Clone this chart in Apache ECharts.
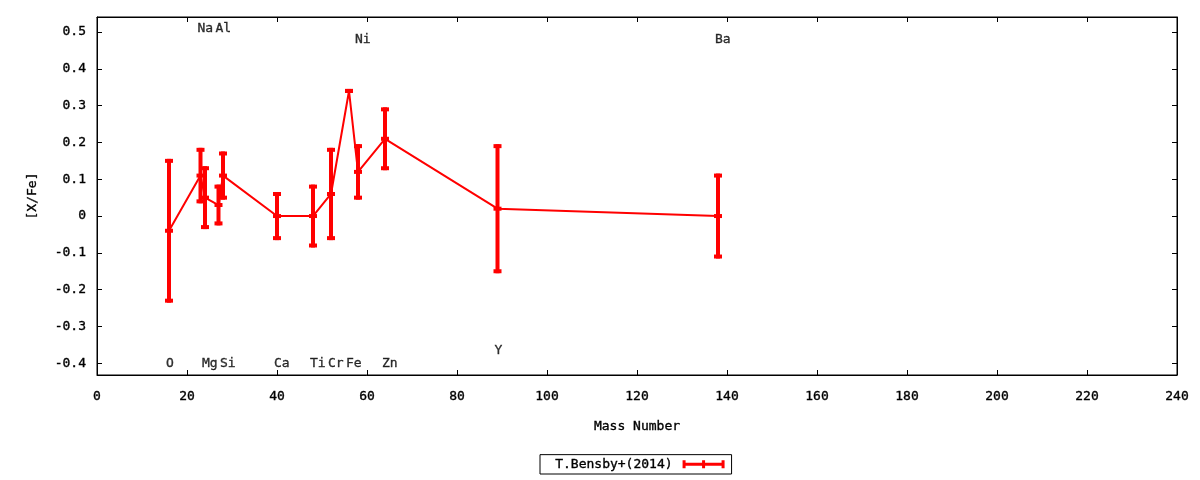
<!DOCTYPE html>
<html>
<head>
<meta charset="utf-8">
<script src="https://cdn.jsdelivr.net/npm/echarts@6/dist/echarts.min.js"></script>
<style>html,body{margin:0;padding:0;background:#fff}#c{width:1200px;height:480px}</style>
</head>
<body>
<div id="c"></div>
<script>
// Data
const seriesName = 'T.Bensby+(2014)';
const massNumber = [16, 23, 24, 27, 28, 40, 48, 52, 56, 58, 64, 89, 138];
const xFe        = [-0.04, 0.11, 0.05, 0.03, 0.11, 0.00, 0.00, 0.06, 0.34, 0.12, 0.21, 0.02, 0.00];
const xFeLow     = [-0.23, 0.04, -0.03, -0.02, 0.05, -0.06, -0.08, -0.06, 0.34, 0.05, 0.13, -0.15, -0.11];
const xFeHigh    = [0.15, 0.18, 0.13, 0.08, 0.17, 0.06, 0.08, 0.18, 0.34, 0.19, 0.29, 0.19, 0.11];

const elementNames = ['O', 'Na', 'Mg', 'Al', 'Si', 'Ca', 'Ti', 'Cr', 'Fe', 'Ni', 'Zn', 'Y', 'Ba'];
const elementMass  = [16, 23, 24, 27, 28, 40, 48, 52, 56, 58, 64, 89, 138];
const elementLabelY = [-0.4, 0.51, -0.4, 0.51, -0.4, -0.4, -0.4, -0.4, -0.4, 0.48, -0.4, -0.365, 0.48];

const xTicks = [0, 20, 40, 60, 80, 100, 120, 140, 160, 180, 200, 220, 240];
const yTicks = [-0.4, -0.3, -0.2, -0.1, 0, 0.1, 0.2, 0.3, 0.4, 0.5];

const FONT = 'DejaVu Sans Mono';
const RED = '#ff0000';

const lineData = massNumber.map((m, i) => [m, xFe[i]]);
const errData = massNumber.map((m, i) => [m, xFe[i], xFeLow[i], xFeHigh[i]]);
const labelData = elementNames.map((n, i) => [elementMass[i], elementLabelY[i], n]);

const chart = echarts.init(document.getElementById('c'), null, {renderer: 'canvas'});

const yFmt = v => (Math.abs(v) < 1e-9 ? '0' : v.toFixed(1));
const commonTick = {show: true, inside: true, length: 5, lineStyle: {color: '#000', width: 1}};
const txt = {fontFamily: FONT, fontSize: 13, color: '#000', textBorderColor: '#000', textBorderWidth: 0.35};

chart.setOption({
  animation: false,
  backgroundColor: '#fff',
  textStyle: {fontFamily: FONT},
  grid: {left: 97, right: 23, top: 17, bottom: 105, show: true, borderColor: '#000', borderWidth: 1, containLabel: false},
  xAxis: [{
    type: 'value', min: 0, max: 240, interval: 20, position: 'bottom',
    name: 'Mass Number', nameLocation: 'middle', nameGap: 45,
    nameTextStyle: txt,
    axisLine: {show: true, onZero: false, lineStyle: {color: '#000', width: 1}},
    axisTick: Object.assign({}, commonTick, {customValues: xTicks}),
    axisLabel: Object.assign({show: true, margin: 15, customValues: xTicks}, txt),
    splitLine: {show: false}
  }, {
    type: 'value', min: 0, max: 240, interval: 20, position: 'top',
    axisLine: {show: true, onZero: false, lineStyle: {color: '#000', width: 1}},
    axisTick: commonTick,
    axisLabel: {show: false},
    splitLine: {show: false}
  }],
  yAxis: [{
    type: 'value', min: -0.432, max: 0.541, position: 'left',
    name: '[X/Fe]', nameLocation: 'middle', nameGap: 58, nameRotate: 90,
    nameTextStyle: txt,
    axisLine: {show: true, onZero: false, lineStyle: {color: '#000', width: 1}},
    axisTick: Object.assign({}, commonTick, {customValues: yTicks}),
    axisLabel: Object.assign({show: true, customValues: yTicks, formatter: yFmt, margin: 11}, txt),
    splitLine: {show: false}
  }, {
    type: 'value', min: -0.432, max: 0.541, position: 'right',
    axisLine: {show: true, onZero: false, lineStyle: {color: '#000', width: 1}},
    axisTick: Object.assign({}, commonTick, {customValues: yTicks}),
    axisLabel: {show: false, customValues: yTicks},
    splitLine: {show: false}
  }],
  legend: {
    show: true,
    data: [{name: seriesName, icon: 'path://M0,0H3V2.5H19.5V0H22.5V2.5H39V0H42V8H39V5.5H22.5V8H19.5V5.5H3V8H0Z'}],
    bottom: 6, left: 540,
    align: 'right',
    itemWidth: 42, itemHeight: 8,
    borderColor: '#000', borderWidth: 1, borderRadius: 0,
    padding: [3, 7, 3, 15],
    textStyle: Object.assign({padding: [0, 5, 0, 0]}, txt),
    selectedMode: false
  },
  series: [{
    name: seriesName,
    type: 'line',
    data: lineData,
    xAxisIndex: 0, yAxisIndex: 0,
    showSymbol: false, symbol: 'none',
    lineStyle: {color: RED, width: 2},
    itemStyle: {color: RED},
    z: 2
  }, {
    name: seriesName,
    type: 'custom',
    data: errData,
    xAxisIndex: 0, yAxisIndex: 0,
    itemStyle: {color: RED},
    renderItem: function (params, api) {
      const x = api.value(0);
      const c = api.coord([x, api.value(1)]);
      const lo = api.coord([x, api.value(2)]);
      const hi = api.coord([x, api.value(3)]);
      const hw = 4;
      const st = {stroke: RED, lineWidth: 4, lineCap: 'butt'};
      return {
        type: 'group',
        children: [
          {type: 'line', shape: {x1: c[0], y1: hi[1] - 2, x2: c[0], y2: lo[1] + 2}, style: st},
          {type: 'line', shape: {x1: c[0] - hw, y1: hi[1], x2: c[0] + hw, y2: hi[1]}, style: st},
          {type: 'line', shape: {x1: c[0] - hw, y1: lo[1], x2: c[0] + hw, y2: lo[1]}, style: st},
          {type: 'line', shape: {x1: c[0] - hw, y1: c[1], x2: c[0] + hw, y2: c[1]}, style: st}
        ]
      };
    },
    z: 3
  }, {
    name: 'labels',
    type: 'scatter',
    data: labelData,
    xAxisIndex: 0, yAxisIndex: 0,
    symbolSize: 0,
    silent: true,
    label: Object.assign({
      show: true, position: 'right', distance: 0, offset: [-3, 0],
      formatter: p => p.data[2]
    }, txt),
    z: 4
  }]
});
</script>
</body>
</html>
